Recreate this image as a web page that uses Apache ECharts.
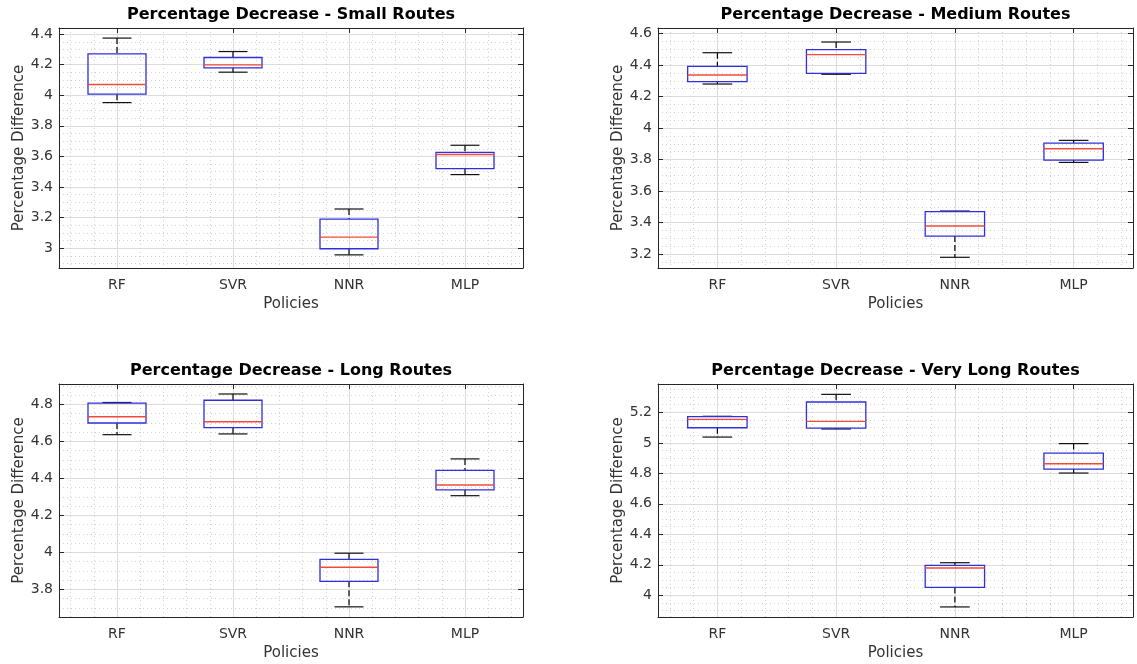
<!DOCTYPE html>
<html>
<head>
<meta charset="utf-8">
<script src="https://cdn.jsdelivr.net/npm/echarts@6/dist/echarts.min.js"></script>
<style>
html,body{margin:0;padding:0;background:#fff;}
#main{width:1137px;height:664px;}
</style>
</head>
<body>
<div id="main"></div>
<script>
var policies=['RF','SVR','NNR','MLP'];

// each row: min, q1, median, q3, max
var smallRoutes=[[3.952,4.007,4.070,4.271,4.374],[4.151,4.179,4.199,4.247,4.286],[2.956,2.996,3.072,3.190,3.256],[3.481,3.520,3.612,3.627,3.673]];
var mediumRoutes=[[4.280,4.295,4.337,4.392,4.479],[4.342,4.348,4.467,4.498,4.547],[3.179,3.314,3.378,3.469,3.473],[3.782,3.797,3.869,3.905,3.922]];
var longRoutes=[[4.636,4.699,4.733,4.807,4.810],[4.640,4.674,4.706,4.822,4.856],[3.705,3.843,3.919,3.962,3.995],[4.306,4.337,4.364,4.443,4.505]];
var veryLongRoutes=[[5.038,5.099,5.154,5.172,5.174],[5.091,5.097,5.141,5.268,5.318],[3.924,4.052,4.179,4.197,4.214],[4.802,4.828,4.863,4.933,4.995]];

var smallLim=[2.87,4.44];
var mediumLim=[3.111,4.636];
var longLim=[3.65,4.91];
var veryLongLim=[3.858,5.386];

var panels=[
	{title:'Percentage Decrease - Small Routes',data:smallRoutes,lim:smallLim,box:[59,28,464,240]},
	{title:'Percentage Decrease - Medium Routes',data:mediumRoutes,lim:mediumLim,box:[658,28,475,240]},
	{title:'Percentage Decrease - Long Routes',data:longRoutes,lim:longLim,box:[59,384,464,233]},
	{title:'Percentage Decrease - Very Long Routes',data:veryLongRoutes,lim:veryLongLim,box:[658,384,475,233]}
];

var axisColor='#262626';
var textColor='#333';
var majorGrid='#dcdcdc';
var minorGrid='#d2d2d2';

function renderBox(params,api){
	var i=api.value(0);
	var lo=api.coord([i,api.value(1)]);
	var q1=api.coord([i,api.value(2)]);
	var md=api.coord([i,api.value(3)]);
	var q3=api.coord([i,api.value(4)]);
	var hi=api.coord([i,api.value(5)]);
	var band=api.size([1,0])[0];
	var bw=band*0.5,cw=band*0.25,x=q1[0];
	var dash={stroke:'#000',lineWidth:1.2,lineDash:[6,3]};
	var solid={stroke:'#111',lineWidth:1.2};
	return {type:'group',children:[
		{type:'line',shape:{x1:x,y1:hi[1],x2:x,y2:q3[1]},style:dash},
		{type:'line',shape:{x1:x,y1:q1[1],x2:x,y2:lo[1]},style:dash},
		{type:'line',shape:{x1:x-cw/2,y1:hi[1],x2:x+cw/2,y2:hi[1]},style:solid},
		{type:'line',shape:{x1:x-cw/2,y1:lo[1],x2:x+cw/2,y2:lo[1]},style:solid},
		{type:'rect',shape:{x:x-bw/2,y:q3[1],width:bw,height:q1[1]-q3[1]},style:{fill:null,stroke:'#2f2fdc',lineWidth:1.3}},
		{type:'line',shape:{x1:x-bw/2,y1:md[1],x2:x+bw/2,y2:md[1]},style:{stroke:'#ef4a3a',lineWidth:1.4}}
	]};
}

function buildOption(){
	var option={
		backgroundColor:'#fff',
		animation:false,
		textStyle:{fontFamily:'DejaVu Sans'},
		title:[],grid:[],xAxis:[],yAxis:[],series:[]
	};
	panels.forEach(function(p,k){
		var b=p.box;
		option.title.push({
			text:p.title,left:b[0]+b[2]/2,top:b[1]-21,textAlign:'center',padding:0,
			textStyle:{fontSize:16,fontWeight:'bold',color:'#000',fontFamily:'DejaVu Sans'}
		});
		option.grid.push({left:b[0],top:b[1],width:b[2],height:b[3],containLabel:false});
		// categories along the bottom
		option.xAxis.push({
			type:'category',gridIndex:k,data:policies,boundaryGap:true,position:'bottom',
			axisLine:{lineStyle:{color:axisColor}},
			axisTick:{inside:true,alignWithLabel:true,length:5,lineStyle:{color:axisColor}},
			axisLabel:{color:textColor,fontSize:14,margin:10},
			splitLine:{show:false},
			name:'Policies',nameLocation:'middle',nameGap:29,
			nameTextStyle:{color:textColor,fontSize:15}
		});
		// value axis on top, only for the grid lines
		option.xAxis.push({
			type:'value',gridIndex:k,position:'top',min:0.5,max:4.5,splitNumber:4,
			axisLine:{show:true,lineStyle:{color:axisColor}},
			axisTick:{show:true,inside:true,length:5,lineStyle:{color:axisColor}},
			axisLabel:{show:false},
			splitLine:{show:true,lineStyle:{color:majorGrid}},
			minorTick:{show:false,splitNumber:5},
			minorSplitLine:{show:true,lineStyle:{color:minorGrid,type:[1,3]}}
		});
		option.yAxis.push({
			type:'value',gridIndex:k,min:p.lim[0],max:p.lim[1],splitNumber:8,
			axisLine:{show:true,lineStyle:{color:axisColor}},
			axisTick:{show:true,inside:true,length:5,lineStyle:{color:axisColor}},
			axisLabel:{color:textColor,fontSize:14,margin:6,showMinLabel:false,showMaxLabel:false},
			splitLine:{show:true,lineStyle:{color:majorGrid}},
			minorTick:{show:false,splitNumber:4},
			minorSplitLine:{show:true,lineStyle:{color:minorGrid,type:[1,3]}},
			name:'Percentage Difference',nameLocation:'middle',nameGap:27,
			nameTextStyle:{color:textColor,fontSize:15}
		});
		option.yAxis.push({
			type:'value',gridIndex:k,position:'right',min:p.lim[0],max:p.lim[1],splitNumber:8,
			axisLine:{show:true,lineStyle:{color:axisColor}},
			axisTick:{show:true,inside:true,length:5,lineStyle:{color:axisColor}},
			axisLabel:{show:false},
			splitLine:{show:false}
		});
		option.series.push({
			type:'custom',xAxisIndex:2*k,yAxisIndex:2*k,
			renderItem:renderBox,
			encode:{x:0,y:[1,2,3,4,5]},
			data:p.data.map(function(r,i){return [i].concat(r);})
		});
	});
	return option;
}

var myChart=echarts.init(document.getElementById('main'));
myChart.setOption(buildOption());
</script>
</body>
</html>
